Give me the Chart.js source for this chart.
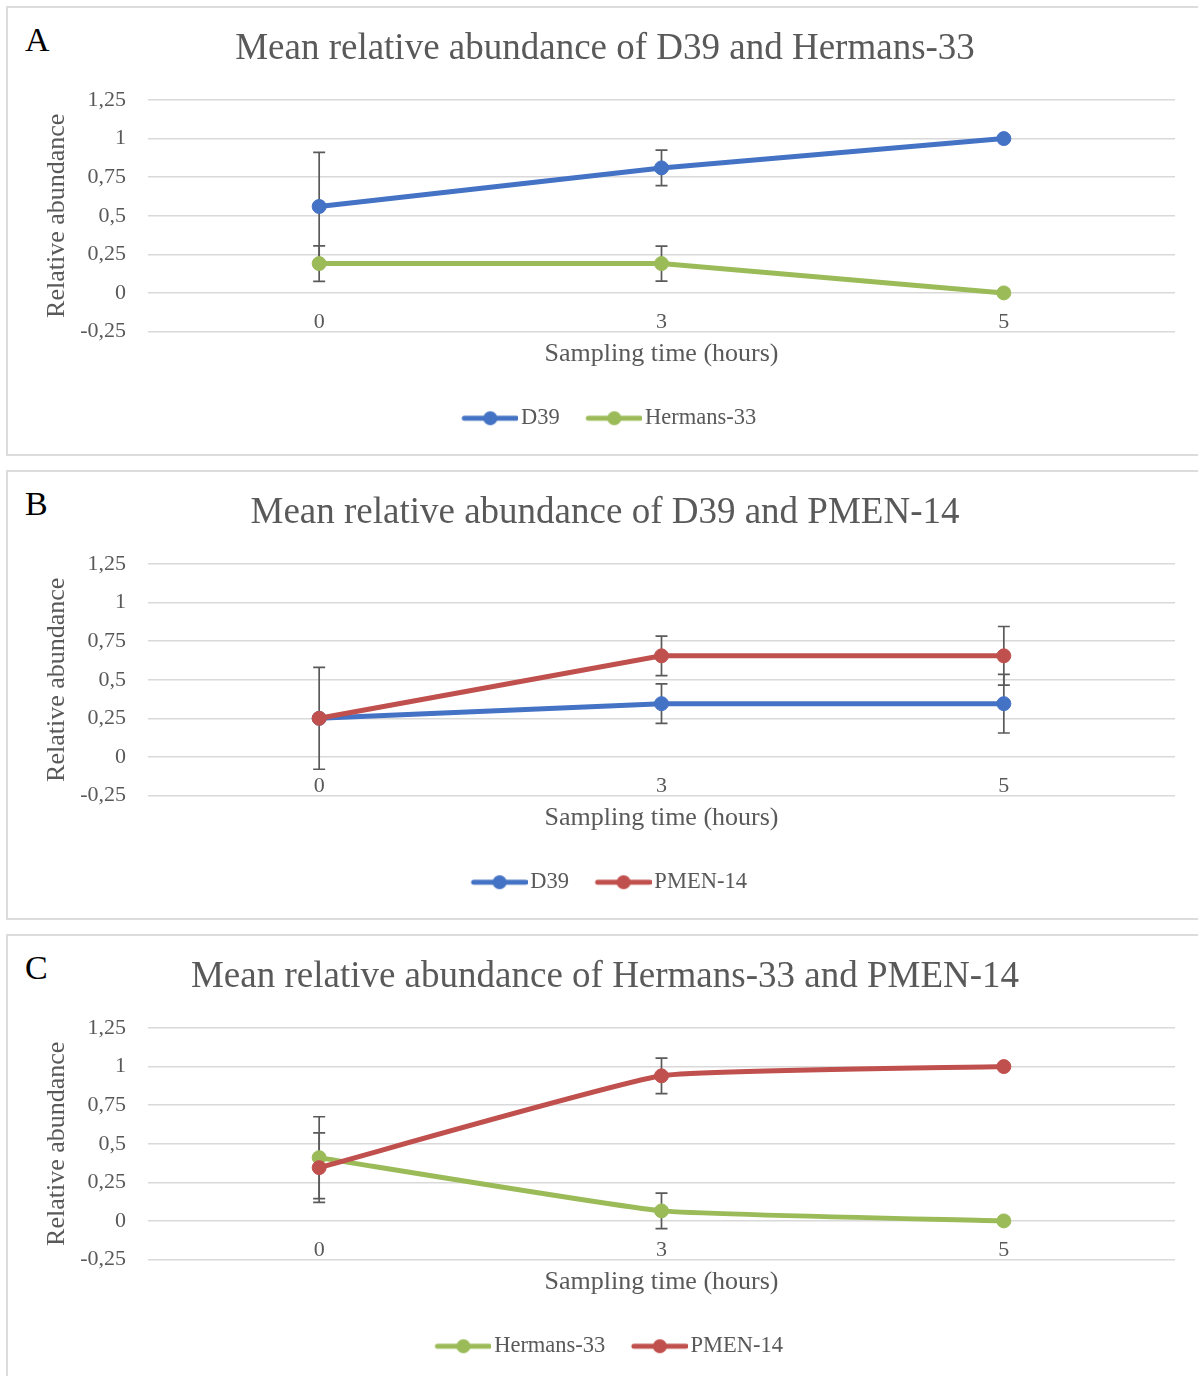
<!DOCTYPE html>
<html>
<head>
<meta charset="utf-8">
<script src="https://cdn.jsdelivr.net/npm/chart.js@4"></script>
<style>
  html, body { margin: 0; padding: 0; background: #fff; overflow: hidden; }
  body { width: 1198px; height: 1376px; position: relative; }
  .panel {
    position: absolute; left: 6px; width: 1196px; height: 446px;
    border: 2px solid #dcdcdc; background: #fff;
  }
  .panel canvas { position: absolute; left: 0; top: 0; }
  .letter {
    position: absolute; left: 17px; top: 15px;
    font: 34px/34px 'Liberation Serif', 'Times New Roman', serif; color: #000;
  }
</style>
</head>
<body>
<div class="panel" style="top:6px"><div class="letter">A</div><canvas id="chartA" width="1194" height="446"></canvas></div>
<div class="panel" style="top:470px"><div class="letter">B</div><canvas id="chartB" width="1194" height="446"></canvas></div>
<div class="panel" style="top:934px"><div class="letter">C</div><canvas id="chartC" width="1194" height="446"></canvas></div>
<script>
// sampling times (category axis)
const hours = ['0', '3', '5'];

// A: D39 vs Hermans-33
const aD39 = [0.56, 0.81, 1.0];
const aD39Err = [0.35, 0.115, 0];
const aHermans = [0.19, 0.19, 0.0];
const aHermansErr = [0.115, 0.113, 0];

// B: D39 vs PMEN-14
const bD39 = [0.25, 0.345, 0.345];
const bD39Err = [0.33, 0.128, 0.19];
const bPmen = [0.25, 0.655, 0.655];
const bPmenErr = [0, 0.128, 0.19];

// C: Hermans-33 vs PMEN-14
const cHermans = [0.41, 0.065, 0.0];
const cHermansErr = [0.265, 0.115, 0];
const cPmen = [0.345, 0.94, 1.0];
const cPmenErr = [0.225, 0.115, 0];

const BLUE = '#4472C4';
const GREEN = '#9BBB59';
const RED = '#C0504D';
const GREY = '#595959';
const SERIF = "'Liberation Serif', 'Times New Roman', serif";

Chart.defaults.font.family = SERIF;
Chart.defaults.color = GREY;

// line + dot marker for the legend, like Excel draws it
function legendMarker(color) {
    const c = document.createElement('canvas');
    c.width = 73; c.height = 16;
    const g = c.getContext('2d');
    g.strokeStyle = color;
    g.lineWidth = 5;
    g.lineCap = 'round';
    g.beginPath(); g.moveTo(19, 8); g.lineTo(71, 8); g.stroke();
    g.fillStyle = color;
    g.beginPath(); g.arc(45, 8, 7, 0, Math.PI * 2); g.fill();
    return c;
}

// vertical error bars with caps, drawn under the lines
const errorBars = {
    id: 'errorBars',
    beforeDatasetsDraw(chart, args, opts) {
        const { ctx, scales: { x, y } } = chart;
        ctx.save();
        ctx.strokeStyle = opts.color;
        ctx.lineWidth = opts.width;
        chart.data.datasets.forEach((ds, i) => {
            const errs = opts.errors[i];
            if (!errs) return;
            ds.data.forEach((v, j) => {
                const e = errs[j];
                if (!e) return;
                const px = x.getPixelForValue(j);
                const top = y.getPixelForValue(v + e);
                const bot = y.getPixelForValue(v - e);
                ctx.beginPath();
                ctx.moveTo(px, top); ctx.lineTo(px, bot);
                ctx.moveTo(px - opts.cap, top); ctx.lineTo(px + opts.cap, top);
                ctx.moveTo(px - opts.cap, bot); ctx.lineTo(px + opts.cap, bot);
                ctx.stroke();
            });
        });
        ctx.restore();
    }
};

function makePanel(canvasId, title, series, errors, tension) {
    const ctx = document.getElementById(canvasId);
    return new Chart(ctx, {
        type: 'line',
        data: {
            labels: hours,
            datasets: series.map((s, i) => ({
                label: s.label,
                data: s.data,
                borderColor: s.color,
                backgroundColor: s.color,
                borderWidth: 5,
                pointRadius: 7,
                pointHoverRadius: 7,
                pointBackgroundColor: s.color,
                pointBorderColor: s.color,
                pointBorderWidth: 1,
                tension: tension,
                // second series sits on top, as in Excel
                order: series.length - i,
            })),
        },
        plugins: [errorBars],
        options: {
            responsive: false,
            animation: false,
            layout: { padding: { left: 27, right: 27, top: 0, bottom: 14.5 } },
            plugins: {
                errorBars: { errors: errors, color: '#5a5a5a', width: 1.7, cap: 6 },
                title: {
                    display: true,
                    text: title,
                    color: GREY,
                    font: { size: 37, weight: 'normal' },
                    padding: { top: 18.8, bottom: 28.8 },
                },
                legend: {
                    display: true,
                    position: 'bottom',
                    title: { display: true, text: '', font: { size: 10 }, padding: { top: 45.5, bottom: 0 } },
                    labels: {
                        usePointStyle: true,
                        pointStyleWidth: 56,
                        padding: 18,
                        color: GREY,
                        font: { size: 22.5 },
                        sort: (a, b) => a.datasetIndex - b.datasetIndex,
                        generateLabels(chart) {
                            const items = Chart.defaults.plugins.legend.labels.generateLabels(chart);
                            items.forEach(it => {
                                it.pointStyle = legendMarker(chart.data.datasets[it.datasetIndex].borderColor);
                            });
                            return items;
                        },
                    },
                },
                tooltip: { enabled: false },
            },
            scales: {
                x: {
                    type: 'category',
                    offset: true,
                    position: { y: 0 },
                    grid: { display: false, drawTicks: false },
                    border: { display: false },
                    ticks: { padding: 16, color: GREY, font: { size: 22 } },
                    title: {
                        display: true,
                        text: 'Sampling time (hours)',
                        color: GREY,
                        font: { size: 26 },
                        padding: { top: -13, bottom: 0 },
                    },
                },
                y: {
                    min: -0.25,
                    max: 1.25,
                    afterFit(scale) { scale.width = 113; },
                    grid: { color: '#d9d9d9', lineWidth: 1.5, drawTicks: false },
                    border: { display: false },
                    ticks: {
                        stepSize: 0.25,
                        padding: 22,
                        color: GREY,
                        font: { size: 22 },
                        callback: v => String(v).replace('.', ','),
                    },
                    title: {
                        display: true,
                        text: 'Relative abundance',
                        color: GREY,
                        font: { size: 26 },
                        padding: { top: 6.4, bottom: 0 },
                    },
                },
            },
        },
    });
}

makePanel('chartA', 'Mean relative abundance of D39 and Hermans-33',
    [{ label: 'D39', data: aD39, color: BLUE }, { label: 'Hermans-33', data: aHermans, color: GREEN }],
    [aD39Err, aHermansErr], 0);

makePanel('chartB', 'Mean relative abundance of D39 and PMEN-14',
    [{ label: 'D39', data: bD39, color: BLUE }, { label: 'PMEN-14', data: bPmen, color: RED }],
    [bD39Err, bPmenErr], 0);

makePanel('chartC', 'Mean relative abundance of Hermans-33 and PMEN-14',
    [{ label: 'Hermans-33', data: cHermans, color: GREEN }, { label: 'PMEN-14', data: cPmen, color: RED }],
    [cHermansErr, cPmenErr], 0.12);
</script>
</body>
</html>
